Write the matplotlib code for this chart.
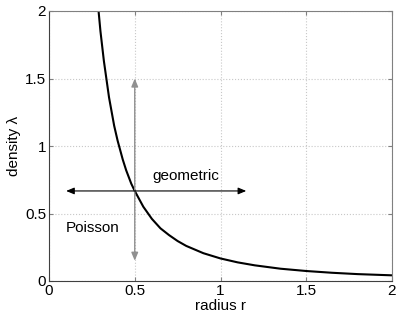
import numpy as np
import matplotlib.pyplot as plt

plt.rcParams['font.family'] = ['Liberation Sans', 'DejaVu Sans']
plt.rcParams['font.size'] = 11

# curve
radius = [0.289, 0.30, 0.32, 0.35, 0.38, 0.40, 0.43, 0.45, 0.48, 0.50, 0.55,
          0.60, 0.65, 0.70, 0.75, 0.80, 0.90, 1.00, 1.10, 1.20, 1.35, 1.50,
          1.65, 1.80, 2.00]
density = [2.00, 1.85, 1.63, 1.36, 1.15, 1.04, 0.90, 0.82, 0.72, 0.667, 0.55,
           0.46, 0.39, 0.34, 0.296, 0.26, 0.206, 0.167, 0.138, 0.116, 0.091,
           0.074, 0.061, 0.051, 0.042]

cross_r = 0.5
cross_lam = 0.667
vert_span = [0.15, 1.5]
horiz_span = [0.1, 1.15]

fig = plt.figure(figsize=(3.99, 3.18), dpi=100)
ax = fig.add_axes([49 / 399, 1 - 281 / 318, 343 / 399, 270 / 318])

ax.plot(radius, density, color='black', lw=1.5)

# gray vertical double arrow, black horizontal double arrow
arrow_v = dict(arrowstyle='-|>,head_length=0.6,head_width=0.25',
               color='#909090', lw=1, mutation_scale=8, shrinkA=0, shrinkB=0)
arrow_h = dict(arrowstyle='-|>,head_length=0.6,head_width=0.25',
               color='black', lw=0.8, mutation_scale=8, shrinkA=0, shrinkB=0)
ax.annotate('', xy=(cross_r, vert_span[1]), xytext=(cross_r, cross_lam), arrowprops=arrow_v)
ax.annotate('', xy=(cross_r, vert_span[0]), xytext=(cross_r, cross_lam), arrowprops=arrow_v)
ax.annotate('', xy=(horiz_span[0], cross_lam), xytext=(cross_r, cross_lam), arrowprops=arrow_h)
ax.annotate('', xy=(horiz_span[1], cross_lam), xytext=(cross_r, cross_lam), arrowprops=arrow_h)

ax.text(0.6, 0.78, 'geometric', fontsize=11, va='center')
ax.text(0.1, 0.39, 'Poisson', fontsize=11, va='center')

ax.set_xlim(0, 2)
ax.set_ylim(0, 2)
ax.set_xticks([0, 0.5, 1, 1.5, 2])
ax.set_xticklabels(['0', '0.5', '1', '1.5', '2'])
ax.set_yticks([0, 0.5, 1, 1.5, 2])
ax.set_yticklabels(['0', '0.5', '1', '1.5', '2'])
ax.grid(True, linestyle=':', color='#c8c8c8', lw=0.8)
ax.tick_params(direction='in', length=3, color='#808080', top=True, right=True,
               labelsize=11, pad=2)
for s in ax.spines.values():
    s.set_color('#808080')
ax.spines['left'].set_color('#404040')
ax.spines['bottom'].set_color('#404040')
ax.set_xlabel('radius r', fontsize=11, labelpad=1)
ax.set_ylabel('density λ', fontsize=11, labelpad=3)

fig.savefig('out.png', dpi=100)
